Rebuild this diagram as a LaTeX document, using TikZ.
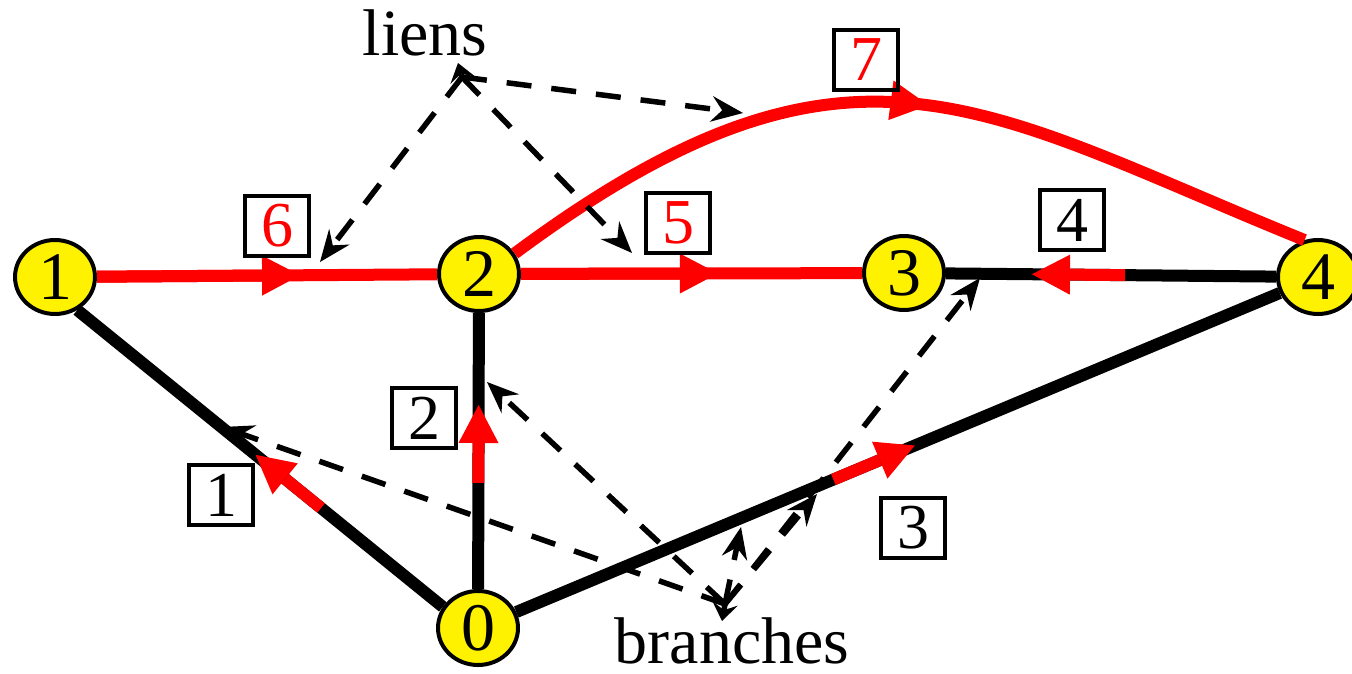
\documentclass[tikz,border=0pt]{standalone}
\usepackage{fontspec}
\setmainfont{Liberation Serif}
\usetikzlibrary{arrows.meta,calc,shapes.geometric,decorations.markings}

\newcommand\bigdigit{\fontsize{68}{68}\selectfont}
\newcommand\tagdigit{\fontsize{64}{64}\selectfont}
\newcommand\lbltext{\fontsize{66}{66}\selectfont}

\tikzset{
  vertex/.style={ellipse, draw=black, line width=4pt, fill=yellow,
    minimum width=80pt, minimum height=74pt, inner sep=0pt, font=\bigdigit},
  tag/.style={draw=black, line width=4pt, minimum width=64pt,
    minimum height=60pt, inner sep=0pt, font=\tagdigit},
  edge/.style={line width=12pt, black},
  redge/.style={line width=12pt, red},
  redtip/.style={line width=12pt, red,
    -{Triangle[length=38pt,width=40pt,line width=0pt]}},
  hint/.style={line width=5.5pt, black, dash pattern=on 25pt off 20pt,
    -{Stealth[length=32pt,width=26pt,inset=11pt,line width=0pt]}},
  hinthead/.style={line width=5.5pt, black,
    -{Stealth[length=18pt,width=26pt,inset=7pt,line width=0pt]}}
}

\begin{document}
\begin{tikzpicture}[x=1pt,y=-1pt]
\useasboundingbox (0,0) rectangle (1352,673);

% vertices
\node[vertex] (n1) at (55,277) {1};
\node[vertex] (n2) at (479,274) {2};
\node[vertex] (n3) at (904,273) {3};
\node[vertex] (n4) at (1318,277) {4};
\node[vertex] (n0) at (478,628) {0};

% tree branches (black) with their red direction marks
\draw[edge] (n0.149) -- (n1.-56);
\draw[redtip] ($(n0.149)!0.333!(n1.-56)$) -- ($(n0.149)!0.512!(n1.-56)$);
\draw[edge] (n0) -- (n2);
\draw[redtip] ($(n0)!0.41!(n2)$) -- ($(n0)!0.63!(n2)$);
\draw[edge] (n0) -- (n4);
\draw[redtip] ($(n0)!0.423!(n4)$) -- ($(n0)!0.52!(n4)$);
\draw[edge] (n4) -- (n3);
\draw[redtip] ($(n4)!0.466!(n3)$) -- ($(n4)!0.691!(n3)$);

% links (red)
\draw[redge] (n1) -- (n2);
\draw[redtip] (n1) -- ($(n1)!0.578!(n2)$);
\draw[redge] (n2) -- (n3);
\draw[redtip] (n2) -- ($(n2)!0.562!(n3)$);
\draw[redge, postaction={decorate}, decoration={markings,
    mark=at position 0.53 with {\arrow{Triangle[length=38pt,width=40pt,line width=0pt]}}}]
  (n2.30) .. controls (852,3) and (981,109) .. (n4.110);

% numbered tags
\node[tag, text=red] (t6) at (277,226) {6};
\node[tag, text=red] (t5) at (678,223) {5};
\node[tag, text=red] (t7) at (866,60) {7};
\node[tag] (t4) at (1072,220) {4};
\node[tag] (t2) at (424,418) {2};
\node[tag] (t1) at (221,495) {1};
\node[tag] (t3) at (913,528) {3};

% captions
\node[font=\lbltext, anchor=base, inner sep=0pt] (liens) at (425,55) {liens};
\node[font=\lbltext, anchor=base, inner sep=0pt] (branches) at (732,663) {branches};

% pointers from "liens"
\coordinate (la) at (462,77);
\coordinate (lt) at (458,63);
\coordinate (l6) at (320,262);
\coordinate (l5) at (632,253);
\coordinate (l7) at (743,113);
\draw[hint] (la) -- (l6);
\draw[hint] (la) -- (l5);
\draw[hint] (la) -- (l7);
\draw[hinthead] (la) -- (lt);

% pointers from "branches"
\coordinate (ba) at (725,604);
\coordinate (bt) at (722,621);
\coordinate (b1) at (222,427);
\coordinate (b2) at (487,382);
\coordinate (b3a) at (741,527);
\coordinate (b3b) at (817,494);
\coordinate (b4) at (980,278);
\draw[hint] (ba) -- (b1);
\draw[hint] (ba) -- (b2);
\draw[hint] (ba) -- (b3a);
\draw[hint] (ba) -- (b3b);
\draw[hint] (ba) -- (b4);
\draw[hinthead] (ba) -- (bt);
\end{tikzpicture}
\end{document}
